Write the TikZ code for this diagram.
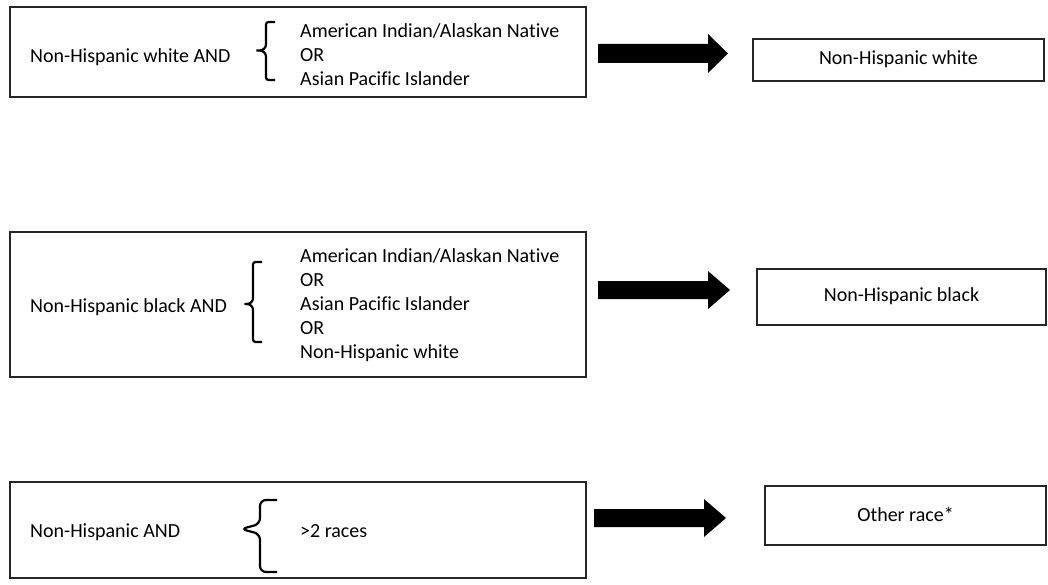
\documentclass[tikz,border=0pt]{standalone}
\usepackage{fontspec}
\setmainfont{Carlito}[Ligatures={NoCommon}]
\begin{document}
\begin{tikzpicture}[x=1pt,y=-1pt,
  box/.style={draw=black!85, line width=1.1pt, rectangle, inner sep=0pt},
  txt/.style={font=\fontsize{20}{24}\selectfont, inner sep=0pt, anchor=base west, align=left},
  restxt/.style={font=\fontsize{20}{24}\selectfont, inner sep=0pt, anchor=base},
  brace/.style={draw=black, line width=2.2pt, rounded corners=2.5pt},
  fatarrow/.style={fill=black, draw=none}]
\useasboundingbox (0,0) rectangle (1048,585);
\fill[white] (0,0) rectangle (1048,585);
% ---- row 1
\node[box, minimum width=576pt, minimum height=90pt] (b1) at (298,52) {};
\node[txt] (l1) at (30,63) {Non-Hispanic white AND};
\node[txt] (r1a) at (300,38) {American Indian/Alaskan Native};
\node[txt] (r1b) at (300,62) {OR};
\node[txt] (r1c) at (300,86) {Asian Pacific Islander};
\draw[brace] (275,22) -- (266,22) -- (266,47) -- (262,50.5) -- (255,50.5) -- (262,50.5) -- (266,54) -- (266,80) -- (275,80);
\node[box, minimum width=291pt, minimum height=42pt] (o1) at (898.5,60) {};
\node[restxt] (t1) at (898.5,65) {Non-Hispanic white};
\fill[fatarrow] (598,44) -- (708,44) -- (708,34) -- (728,53.5) -- (708,73) -- (708,63) -- (598,63) -- cycle;
% ---- row 2
\node[box, minimum width=576pt, minimum height=145pt] (b2) at (298,304.5) {};
\node[txt] (l2) at (30,312) {Non-Hispanic black AND};
\node[txt] (r2a) at (300,262) {American Indian/Alaskan Native};
\node[txt] (r2b) at (300,286) {OR};
\node[txt] (r2c) at (300,310) {Asian Pacific Islander};
\node[txt] (r2d) at (300,334) {OR};
\node[txt] (r2e) at (300,358) {Non-Hispanic white};
\draw[brace] (262,262) -- (253,262) -- (253,301) -- (249,304) -- (243,304) -- (249,304) -- (253,307) -- (253,342) -- (262,342);
\node[box, minimum width=289pt, minimum height=56pt] (o2) at (901.5,297) {};
\node[restxt] (t2) at (901.5,301) {Non-Hispanic black};
\fill[fatarrow] (598,281) -- (708,281) -- (708,271) -- (730,290) -- (708,309) -- (708,299) -- (598,299) -- cycle;
% ---- row 3
\node[box, minimum width=576pt, minimum height=96pt] (b3) at (298,530) {};
\node[txt] (l3) at (30,537) {Non-Hispanic AND};
\node[txt] (r3) at (300,537) {>2 races};
\draw[brace, rounded corners=6pt] (277,500) -- (260,500) -- (260,524) -- (241,529) -- (260,534) -- (260,572) -- (277,572);
\node[box, minimum width=281pt, minimum height=59pt] (o3) at (905.5,515.5) {};
\node[restxt] (t3) at (905.5,521) {Other race*};
\fill[fatarrow] (594,509) -- (704,509) -- (704,499) -- (726,518) -- (704,537) -- (704,527) -- (594,527) -- cycle;
\end{tikzpicture}
\end{document}
